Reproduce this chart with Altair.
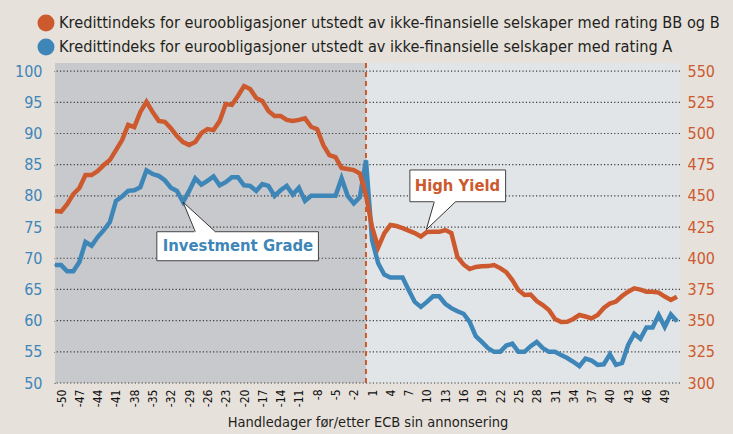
import altair as alt
import pandas as pd

# ---------------- data ----------------
days = list(range(-51, 52))
hy_values = [
    437.8, 437.4, 443.4, 451.4, 456.3, 466.7, 466.7, 469.9, 474.7, 478.7,
    486.7, 494.7, 506.9, 505.1, 517.3, 525.3, 517.3, 510.1, 509.4, 504.3,
    497.9, 493.1, 490.7, 493.1, 500.3, 503.5, 502.7, 509.9, 523.6, 522.9,
    530.1, 538.0, 535.7, 528.5, 526.1, 518.0, 514.1, 514.1, 510.9, 510.1,
    510.9, 512.1, 505.4, 503.5, 490.7, 482.7, 481.1, 472.3, 471.5, 470.7,
    467.9, 450.6,
    425.0, 408.6, 420.0, 426.6, 425.8, 424.2, 422.2, 420.2, 417.4, 421.0,
    421.2, 421.2, 422.6, 420.2, 401.0, 395.0, 391.3, 393.0, 393.5, 393.7,
    394.6, 392.1, 388.9, 382.5, 374.5, 370.5, 370.9, 365.7, 362.5, 358.5,
    351.3, 348.9, 349.1, 351.3, 354.5, 353.3, 351.8, 354.5, 360.1, 363.7,
    365.3, 369.7, 373.2, 375.9, 374.9, 373.2, 373.2, 372.5, 369.3, 366.5,
    369.2,
]
ig_values = [
    68.9, 68.9, 67.9, 67.9, 69.4, 72.6, 72.0, 73.4, 74.5, 75.8,
    79.2, 79.9, 80.8, 80.9, 81.4, 84.1, 83.5, 83.2, 82.5, 81.3,
    80.8, 79.0, 80.8, 82.8, 81.8, 82.4, 83.1, 81.7, 82.2, 83.0,
    83.0, 81.7, 81.6, 80.8, 81.9, 81.6, 80.0, 80.9, 81.6, 80.2,
    81.3, 79.2, 80.0, 80.0, 80.0, 80.0, 80.0, 82.8, 80.0, 78.8,
    79.8, 85.7,
    72.9, 69.2, 67.4, 66.9, 66.9, 66.9, 64.9, 63.0, 62.2, 63.0,
    63.9, 63.9, 62.7, 62.0, 61.5, 61.1, 59.8, 57.5, 56.6, 55.6,
    55.0, 55.0, 56.0, 56.3, 55.0, 55.0, 55.9, 56.6, 55.6, 55.0,
    55.0, 54.5, 54.0, 53.4, 52.7, 53.9, 53.6, 52.9, 53.0, 54.6,
    52.9, 53.2, 56.1, 57.9, 57.1, 58.9, 58.9, 60.9, 59.0, 61.0,
    59.9,
]
LBL_HY = "Kredittindeks for euroobligasjoner utstedt av ikke-finansielle selskaper med rating BB og B"
LBL_IG = "Kredittindeks for euroobligasjoner utstedt av ikke-finansielle selskaper med rating A"
X_TITLE = "Handledager før/etter ECB sin annonsering"
x_tick_values = list(range(-50, 50, 3))
left_ticks = list(range(50, 101, 5))
right_ticks = list(range(300, 551, 25))
phase_start = [-51, 0]
phase_end = [0, 51.5]

# annotation anchors (data units: day, left-axis value)
ig_note = {"text": "Investment Grade", "x1": -34.3, "x2": -7.8, "y1": 69.6, "y2": 74.25,
           "tx": -21.0, "ty": 71.9, "px": -30.0, "py": 79.0, "ba": -28.0, "bb": -24.7}
hy_note = {"text": "High Yield", "x1": 7.2, "x2": 22.9, "y1": 79.06, "y2": 84.15,
           "tx": 15.0, "ty": 81.6, "px": 9.9, "py": 74.6, "ba": 11.2, "bb": 14.7}

# ---------------- style ----------------
FONT = "DejaVu Sans Condensed, Roboto"
ORANGE = "#cc5a2e"
BLUE = "#3e86b8"
BG = "#e7e1dc"
DARK_BG = "#c8c9cc"
LIGHT_BG = "#e2e5e8"
TXT = "#231f20"
W, H = 625, 320
LEFT_DOM = [50, 101.3]
RIGHT_DOM = [300, 556.5]

xscale = alt.Scale(domain=[-51, 51.5], nice=False, zero=False)
lscale = alt.Scale(domain=LEFT_DOM, nice=False, zero=False)
rscale = alt.Scale(domain=RIGHT_DOM, nice=False, zero=False)
color_scale = alt.Scale(domain=[LBL_HY, LBL_IG], range=[ORANGE, BLUE])

legend = alt.Legend(
    title=None, orient="none", legendX=-18, legendY=-49, direction="vertical",
    symbolType="circle", symbolSize=290, symbolStrokeWidth=0,
    labelFont=FONT, labelFontSize=16.2, labelColor=TXT, labelLimit=1000,
    labelOffset=4, rowPadding=6,
)

x_axis = alt.Axis(
    values=x_tick_values, labelExpr="toString(datum.value)",
    labelAngle=270, labelAlign="right", labelBaseline="middle",
    labelFont=FONT, labelFontSize=12, labelColor="#111111", labelPadding=6,
    ticks=False, domain=False, grid=False,
    title=X_TITLE, titleFont=FONT, titleFontSize=14.5, titleFontWeight="normal",
    titleColor=TXT, titlePadding=9,
)


def xq(field="day"):
    return alt.X(f"{field}:Q", scale=xscale, axis=x_axis)


def yl(field):
    return alt.Y(f"{field}:Q", scale=lscale, axis=None)


# ---------------- layers ----------------
bg_layers = []
for s, e, c in zip(phase_start, phase_end, [DARK_BG, LIGHT_BG]):
    df = pd.DataFrame({"start": [s], "end": [e], "lo": [LEFT_DOM[0]], "hi": [LEFT_DOM[1]]})
    bg_layers.append(alt.Chart(df).mark_rect(color=c).encode(
        x=xq("start"), x2="end:Q", y=yl("lo"), y2="hi:Q"))

grid_df = pd.DataFrame({"v": left_ticks})
grid_layer = alt.Chart(grid_df).mark_rule(color="#3c3c3c", strokeWidth=1.2, strokeDash=[1.2, 2.2]).encode(
    y=yl("v")
)

zero_df = pd.DataFrame({"d": [0]})
zero_layer = alt.Chart(zero_df).mark_rule(color=ORANGE, strokeWidth=2, strokeDash=[5, 4]).encode(
    x=xq("d")
)

ig_df = pd.DataFrame({"day": days, "v": ig_values, "series": LBL_IG})
hy_df = pd.DataFrame({"day": days, "v": hy_values, "series": LBL_HY})

# tiny filled points under the lines: they carry the (filled circle) legend
key_layer = alt.Chart(ig_df).mark_point(filled=True, size=3, opacity=1).encode(
    x=xq(), y=yl("v"),
    color=alt.Color("series:N", scale=color_scale, legend=legend),
)

ig_line = alt.Chart(ig_df).mark_line(strokeWidth=4.5, strokeJoin="miter").encode(
    x=xq(),
    y=alt.Y("v:Q", scale=lscale, axis=alt.Axis(
        orient="left", values=left_ticks, labelFont=FONT, labelFontSize=16, labelColor=BLUE,
        labelPadding=10, ticks=True, tickSize=3, tickColor="#3c3c3c", tickDash=[1, 2],
        domain=False, grid=False, title=None)),
    color=alt.Color("series:N", scale=color_scale, legend=None),
)

hy_line = alt.Chart(hy_df).mark_line(strokeWidth=4.5, strokeJoin="miter").encode(
    x=xq(),
    y=alt.Y("v:Q", scale=rscale, axis=alt.Axis(
        orient="right", values=right_ticks, labelFont=FONT, labelFontSize=16, labelColor=ORANGE,
        labelPadding=7, ticks=False, domain=False, grid=False, title=None)),
    color=alt.Color("series:N", scale=color_scale, legend=None),
)


def note_layers(n, color):
    box_df = pd.DataFrame([{"x1": n["x1"], "x2": n["x2"], "y1": n["y1"], "y2": n["y2"]}])
    box = alt.Chart(box_df).mark_rect(fill="white", stroke="#444444", strokeWidth=1).encode(
        x=xq("x1"), x2="x2:Q", y=yl("y1"), y2="y2:Q"
    )
    base_y = n["y2"] if n["py"] > n["y2"] else n["y1"]
    inward = -0.35 if base_y == n["y2"] else 0.35
    yab = n["py"] + (base_y - n["py"]) * (n["ba"] - n["px"]) / (n["bb"] - n["px"])
    tri_df = pd.DataFrame({
        "x": [n["px"], n["ba"], n["bb"]],
        "ya": [n["py"], yab, base_y],
        "yb": [n["py"], base_y + inward, base_y + inward],
    })
    tri = alt.Chart(tri_df).mark_area(color="white", orient="vertical", opacity=1).encode(
        x=xq("x"), y=yl("ya"), y2="yb:Q"
    )
    edge_df = pd.DataFrame({"x": [n["ba"], n["px"], n["bb"]], "y": [base_y, n["py"], base_y], "o": [0, 1, 2]})
    edge = alt.Chart(edge_df).mark_line(color="#333333", strokeWidth=1).encode(
        x=xq("x"), y=yl("y"), order="o:Q"
    )
    txt_df = pd.DataFrame([{"x": n["tx"], "y": n["ty"], "t": n["text"]}])
    txt = alt.Chart(txt_df).mark_text(font=FONT, fontSize=16.5, fontWeight="bold", color=color).encode(
        x=xq("x"), y=yl("y"), text="t:N"
    )
    return [box, tri, edge, txt]


layers = (bg_layers + [grid_layer, zero_layer, key_layer, ig_line, hy_line]
          + note_layers(ig_note, BLUE) + note_layers(hy_note, ORANGE))

chart = alt.layer(*layers).resolve_scale(y="independent").properties(
    width=W, height=H,
    autosize=alt.AutoSizeParams(type="none"),
    padding={"left": 55, "top": 63, "right": 733 - 55 - W, "bottom": 434 - 63 - H},
).configure(background=BG).configure_view(stroke=None)

chart.save("out.html", embed_options={"renderer": "svg", "actions": False})
